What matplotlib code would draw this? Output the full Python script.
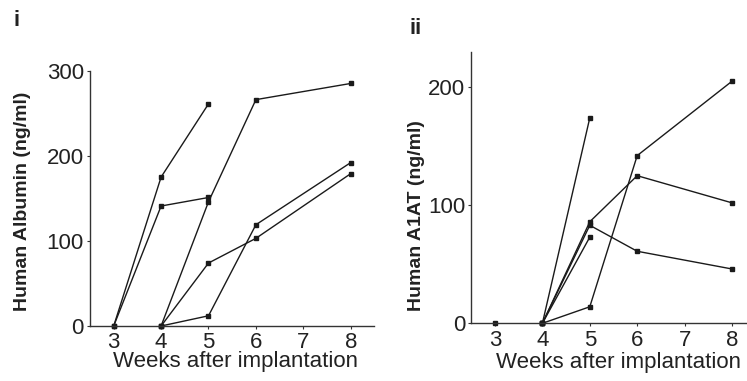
import matplotlib.pyplot as plt

plt.rcParams['font.family'] = ['Liberation Sans', 'DejaVu Sans']

weeks_ticks = [3, 4, 5, 6, 7, 8]

# panel i - human albumin, one list per animal
alb_x = [
    [3, 4, 5],
    [3, 4, 5],
    [4, 5, 6, 8],
    [4, 5, 6, 8],
    [4, 5, 6, 8],
]
alb_y = [
    [0, 175, 261],
    [0, 141, 151],
    [0, 146, 266, 285],
    [0, 74, 103, 179],
    [0, 12, 119, 192],
]

# panel ii - human A1AT
a1at_x = [
    [3],
    [4, 5],
    [4, 5, 6, 8],
    [4, 5, 6, 8],
    [4, 5],
    [4, 5, 6, 8],
]
a1at_y = [
    [0],
    [0, 174],
    [0, 86, 125, 102],
    [0, 83, 61, 46],
    [0, 73],
    [0, 14, 142, 205],
]

W, H = 747, 381
fig = plt.figure(figsize=(W / 100, H / 100), dpi=100)

ax1 = fig.add_axes([90 / W, 55 / H, 284.4 / W, 255.3 / H])
ax2 = fig.add_axes([471.3 / W, 57.7 / H, 284.4 / W, 271.6 / H])

line_col = '#1a1a1a'


def style(ax, ylim, yticks):
    for s in ['top', 'right']:
        ax.spines[s].set_visible(False)
    for s in ['left', 'bottom']:
        ax.spines[s].set_color('#333333')
        ax.spines[s].set_linewidth(1.0)
    ax.set_xlim(2.5, 8.5)
    ax.set_ylim(*ylim)
    ax.set_xticks(weeks_ticks)
    ax.set_yticks(yticks)
    ax.tick_params(length=2.5, width=0.8, color='#333333', labelsize=16,
                   pad=2, labelcolor='#222222')
    for s in ['left', 'bottom']:
        ax.spines[s].set_clip_on(False)


for xs, ys in zip(alb_x, alb_y):
    ax1.plot(xs, ys, color=line_col, lw=1.0, marker='s', ms=3.5, clip_on=False)
for xs, ys in zip(a1at_x, a1at_y):
    ax2.plot(xs, ys, color=line_col, lw=1.0, marker='s', ms=3.5, clip_on=False)

style(ax1, (0, 300), [0, 100, 200, 300])
style(ax2, (0, 230), [0, 100, 200])

ax1.set_ylabel('Human Albumin (ng/ml)', fontsize=14, fontweight='bold',
               va='center', color='#222222')
ax1.yaxis.set_label_coords(-0.239, 0.49)
ax1.set_xlabel('Weeks after implantation', fontsize=16, va='center',
               color='#222222')
ax1.xaxis.set_label_coords(0.513, -0.141)

ax2.set_ylabel('Human A1AT (ng/ml)', fontsize=14, fontweight='bold',
               va='center', color='#222222')
ax2.yaxis.set_label_coords(-0.194, 0.395)
ax2.set_xlabel('Weeks after implantation', fontsize=16, va='center',
               color='#222222')
ax2.xaxis.set_label_coords(0.516, -0.146)

fig.text(17 / W, 1 - 20 / H, 'i', fontsize=16, fontweight='bold',
         ha='center', va='center', color='#222222')
fig.text(416 / W, 1 - 28 / H, 'ii', fontsize=16, fontweight='bold',
         ha='center', va='center', color='#222222')

fig.savefig('out.png', dpi=100)
